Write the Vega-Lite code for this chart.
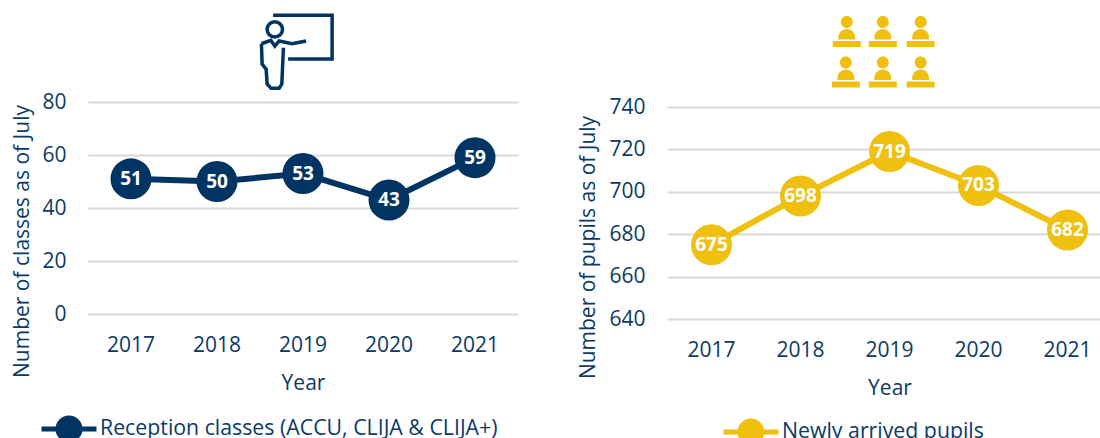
{"$schema":"https://vega.github.io/schema/vega-lite/v6.json","padding":{"left":10,"top":8,"right":0,"bottom":0},"background":"white","spacing":149,"bounds":"flush","config":{"view":{"stroke":null},"font":"Open Sans","axis":{"labelFont":"Open Sans","titleFont":"Open Sans","labelFontSize":21,"titleFontSize":21,"labelColor":"#0b3a66","titleColor":"#0b3a66","titleFontWeight":"normal","gridColor":"#d9d9d9","gridWidth":2,"domain":false,"ticks":false},"legend":{"labelFont":"Open Sans","labelFontSize":21.3,"labelColor":"#0b3a66","labelLimit":600}},"hconcat":[{"width":430,"height":212,"layer":[{"data":{"values":[{"Year":"2017","v":51,"s":"Reception classes (ACCU, CLIJA & CLIJA+)"},{"Year":"2018","v":50,"s":"Reception classes (ACCU, CLIJA & CLIJA+)"},{"Year":"2019","v":53,"s":"Reception classes (ACCU, CLIJA & CLIJA+)"},{"Year":"2020","v":43,"s":"Reception classes (ACCU, CLIJA & CLIJA+)"},{"Year":"2021","v":59,"s":"Reception classes (ACCU, CLIJA & CLIJA+)"}]},"layer":[{"mark":{"type":"line","strokeWidth":6,"color":"#003462"},"encoding":{"x":{"field":"Year","type":"nominal","scale":{"type":"band"},"axis":{"labelAngle":0,"labelPadding":20,"titleY":58,"grid":false}},"y":{"field":"v","type":"quantitative","scale":{"domain":[0,80]},"axis":{"values":[0,20,40,60,80],"title":"Number of classes as of July","labelPadding":22,"titleX":-56,"titleY":139,"titleAnchor":"middle"}}}},{"mark":{"type":"point","filled":true,"opacity":1,"size":1681},"encoding":{"x":{"field":"Year","type":"nominal"},"y":{"field":"v","type":"quantitative"},"color":{"field":"s","type":"nominal","scale":{"range":["#003462"]},"legend":{"orient":"none","legendX":-49,"legendY":297,"title":null,"labelOffset":1,"symbolType":"M-1 0H1M-0.4 0A0.4 0.4 0 1 0 0.4 0A0.4 0.4 0 1 0 -0.4 0","symbolSize":3025,"symbolStrokeWidth":5,"symbolStrokeColor":"#003462","symbolFillColor":"#003462"}}}},{"mark":{"type":"text","color":"white","fontWeight":"bold","fontSize":19},"encoding":{"x":{"field":"Year","type":"nominal"},"y":{"field":"v","type":"quantitative"},"text":{"field":"v"}}}]},{"data":{"values":[{"ix":0.484,"iy":1.238}]},"mark":{"type":"point","clip":false,"filled":false,"strokeWidth":3.5,"color":"#003462","opacity":1,"size":6724,"shape":"M-0.561 -0.883H0.878V0.183H-0.195M-0.708 -0.541A0.188 0.188 0 1 1 -0.332 -0.541A0.188 0.188 0 1 1 -0.708 -0.541M-0.846 -0.19L-0.617 -0.273L-0.52 -0.134L-0.415 -0.256L-0.098 -0.19L0.244 -0.256M-0.846 -0.19L-0.829 0.305L-0.732 0.427L-0.707 0.793L-0.61 0.898H-0.415L-0.349 0.793L-0.31 -0.093"},"encoding":{"x":{"field":"ix","type":"quantitative","scale":{"domain":[0,1]},"axis":null},"y":{"field":"iy","type":"quantitative","scale":{"domain":[0,1]},"axis":null}}}],"resolve":{"scale":{"x":"independent","y":"independent"}}},{"width":445,"height":217,"layer":[{"data":{"values":[{"Year":"2017","v":675,"s":"Newly arrived pupils"},{"Year":"2018","v":698,"s":"Newly arrived pupils"},{"Year":"2019","v":719,"s":"Newly arrived pupils"},{"Year":"2020","v":703,"s":"Newly arrived pupils"},{"Year":"2021","v":682,"s":"Newly arrived pupils"}]},"layer":[{"mark":{"type":"line","strokeWidth":6,"color":"#f0c010"},"encoding":{"x":{"field":"Year","type":"nominal","scale":{"type":"band"},"axis":{"labelAngle":0,"labelPadding":20,"titleY":58,"grid":false}},"y":{"field":"v","type":"quantitative","scale":{"domain":[640,740],"range":[217,5]},"axis":{"values":[640,660,680,700,720,740],"title":"Number of pupils as of July","labelPadding":22,"titleX":-69,"titleY":145,"titleAnchor":"middle"}}}},{"mark":{"type":"point","filled":true,"opacity":1,"size":1681},"encoding":{"x":{"field":"Year","type":"nominal"},"y":{"field":"v","type":"quantitative"},"color":{"field":"s","type":"nominal","scale":{"range":["#f0c010"]},"legend":{"orient":"none","legendX":54,"legendY":300,"title":null,"labelOffset":1,"symbolType":"M-1 0H1M-0.4 0A0.4 0.4 0 1 0 0.4 0A0.4 0.4 0 1 0 -0.4 0","symbolSize":3025,"symbolStrokeWidth":5,"symbolStrokeColor":"#f0c010","symbolFillColor":"#f0c010"}}}},{"mark":{"type":"text","color":"white","fontWeight":"bold","fontSize":19},"encoding":{"x":{"field":"Year","type":"nominal"},"y":{"field":"v","type":"quantitative"},"text":{"field":"v"}}}]},{"data":{"values":[{"ix":0.404,"iy":1.325},{"ix":0.485,"iy":1.325},{"ix":0.57,"iy":1.325},{"ix":0.402,"iy":1.138},{"ix":0.485,"iy":1.138},{"ix":0.57,"iy":1.138}]},"mark":{"type":"point","clip":false,"filled":true,"color":"#f0c010","opacity":1,"size":1024,"shape":"M-0.375 -0.594A0.375 0.375 0 1 1 0.375 -0.594A0.375 0.375 0 1 1 -0.375 -0.594ZM-0.53 0.5V0.374A0.53 0.53 0 0 1 0.53 0.374V0.5ZM-0.875 0.594H0.875V0.97H-0.875Z"},"encoding":{"x":{"field":"ix","type":"quantitative","scale":{"domain":[0,1]},"axis":null},"y":{"field":"iy","type":"quantitative","scale":{"domain":[0,1]},"axis":null}}}],"resolve":{"scale":{"x":"independent","y":"independent"}}}],"resolve":{"legend":{"color":"independent"},"scale":{"color":"independent"}}}
